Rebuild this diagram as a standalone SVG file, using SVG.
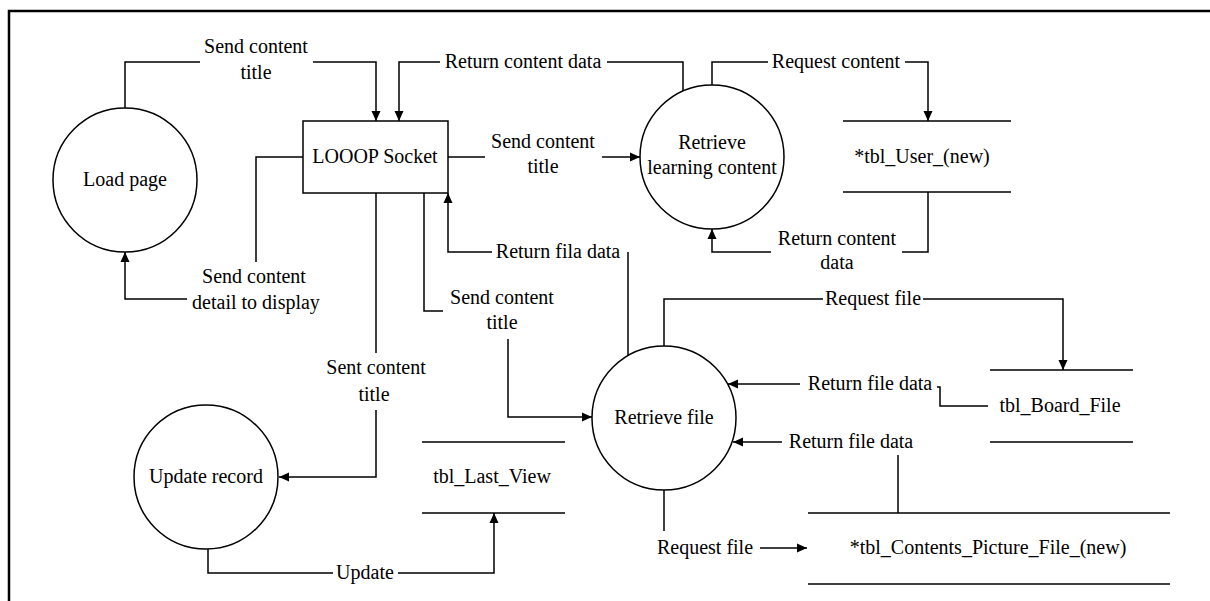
<svg xmlns="http://www.w3.org/2000/svg" width="1210" height="601" viewBox="0 0 1210 601" font-family="'Liberation Serif', 'DejaVu Serif', serif">
<style>
text{font-family:'Liberation Serif','Times New Roman','DejaVu Serif',serif;font-size:20px;fill:#000;text-anchor:middle}
.c{fill:#fff;stroke:#000;stroke-width:1.5}
.s{stroke:#000;stroke-width:1.5;fill:none}
.w{fill:none;stroke:#000;stroke-width:1.5}
.a{marker-end:url(#ah)}
</style>
<defs>
<marker id="ah" markerUnits="userSpaceOnUse" markerWidth="11" markerHeight="10" refX="10" refY="5" orient="auto">
<path d="M0,0.5 L10,5 L0,9.5 z" fill="#000"/>
</marker>
</defs>
<rect width="1210" height="601" fill="#fff"/>
<path d="M9,601 V11 H1210" fill="none" stroke="#000" stroke-width="2.5"/>

<g id="load-page"><circle class="c" cx="125" cy="180" r="72"/><text x="125" y="186">Load page</text></g>
<g id="looop-socket"><rect class="c" x="303" y="121" width="145" height="72"/><text x="375" y="163">LOOOP Socket</text></g>
<g id="retrieve-learning"><circle class="c" cx="712" cy="157" r="72"/><text x="712" y="149">Retrieve</text><text x="712" y="174">learning content</text></g>
<g id="tbl-user"><path class="s" d="M843,121 H1011 M843,192 H1011"/><text x="922" y="163">*tbl_User_(new)</text></g>
<g id="retrieve-file"><circle class="c" cx="664" cy="418" r="72"/><text x="664" y="424">Retrieve file</text></g>
<g id="update-record"><circle class="c" cx="206" cy="477" r="72"/><text x="206" y="483">Update record</text></g>
<g id="tbl-last-view"><path class="s" d="M422,442 H565 M422,513 H565"/><text x="492" y="483">tbl_Last_View</text></g>
<g id="tbl-board-file"><path class="s" d="M990,370 H1133 M990,442 H1133"/><text x="1060" y="412">tbl_Board_File</text></g>
<g id="tbl-contents"><path class="s" d="M808,513 H1170 M808,584 H1170"/><text x="988" y="554">*tbl_Contents_Picture_File_(new)</text></g>

<g id="connectors">
<path class="w" d="M125,108 V62 H200"/><path class="w a" d="M313,62 H376 V121"/>
<text x="256" y="53">Send content</text><text x="256" y="79">title</text>

<path class="w" d="M683,91 V62 H607"/><path class="w a" d="M440,62 H399 V121"/>
<text x="523" y="68">Return content data</text>

<path class="w" d="M712,85 V62 H768"/><path class="w a" d="M905,62 H928 V121"/>
<text x="836" y="68">Request content</text>

<path class="w" d="M928,192 V252 H902"/><path class="w a" d="M771,252 H712 V229"/>
<text x="837" y="245">Return content</text><text x="837" y="269">data</text>

<path class="w" d="M448,157 H485"/><path class="w a" d="M602,157 H640"/>
<text x="543" y="148">Send content</text><text x="543" y="173">title</text>

<path class="w" d="M303,157 H256 V262"/><path class="w a" d="M187,299 H125 V252"/>
<text x="254" y="283">Send content</text><text x="256" y="309">detail to display</text>

<path class="w" d="M628,356 V252"/><path class="w a" d="M492,252 H448 V193"/>
<text x="558" y="258">Return fila data</text>

<path class="w" d="M424,193 V311 H443"/><path class="w a" d="M508,339 V417 H592"/>
<text x="502" y="304">Send content</text><text x="502" y="329">title</text>

<path class="w" d="M376,193 V353"/><path class="w a" d="M376,410 V477 H279"/>
<text x="376" y="374">Sent content</text><text x="374" y="401">title</text>

<path class="w" d="M208,549 V573 H333"/><path class="w a" d="M398,573 H494 V513"/>
<text x="365" y="579">Update</text>

<path class="w" d="M664,346 V299 H823"/><path class="w a" d="M923,299 H1063 V370"/>
<text x="873" y="305">Request file</text>

<path class="w" d="M988,406 H940 V387 H937"/><path class="w a" d="M800,384 H728"/>
<text x="870" y="390">Return file data</text>

<path class="w" d="M898,513 V455"/><path class="w a" d="M782,442 H733"/>
<text x="851" y="448">Return file data</text>

<path class="w" d="M664,490 V531"/><path class="w a" d="M760,548 H807"/>
<text x="705" y="554">Request file</text>
</g>
</svg>
